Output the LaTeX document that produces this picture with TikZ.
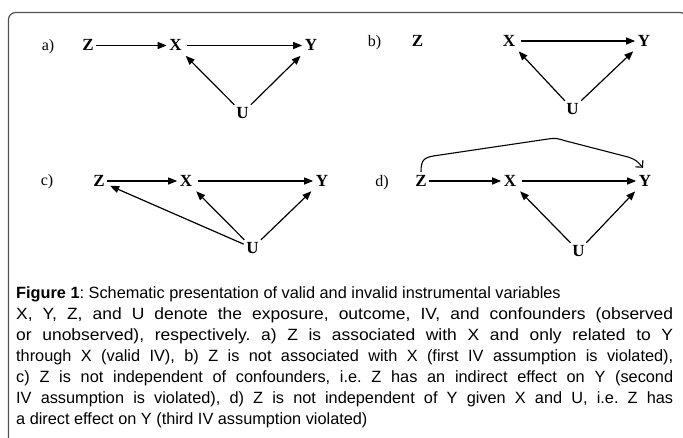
\documentclass[tikz,border=0pt]{standalone}
\usepackage{fontspec}
\setmainfont{Liberation Serif}
\newfontfamily\capfont{Liberation Sans}
\newfontfamily\capwide[FakeStretch=1.07]{Liberation Sans}
\usetikzlibrary{arrows.meta}
\newlength{\capw}
\setlength{\capw}{657pt}
\newcommand{\jl}[1]{\hbox to \capw{#1}}
\begin{document}
\begin{tikzpicture}[x=1pt,y=-1pt,
  var/.style={font=\fontsize{17}{17}\selectfont\bfseries, inner sep=2.5pt,
              text height=11pt, text depth=0pt},
  lbl/.style={font=\fontsize{16}{16}\selectfont, inner sep=0pt,
              text height=11pt, text depth=0pt},
  arr/.style={-{Triangle[length=9pt,width=7pt]}, line width=1.2pt},
  direct/.style={-{Straight Barb[length=5pt,width=10pt]}, line width=1.1pt},
  frame/.style={draw=black!68, line width=1.2pt, rounded corners=7pt}]
\useasboundingbox (0,0) rectangle (683,438);
\draw[frame] (8.5,12.5) rectangle (687,470);

% a) valid instrument
\node[lbl] (la) at (48,45.5) {a)};
\node[var] (za) at (88,45.5) {Z};
\node[var] (xa) at (175.5,45.5) {X};
\node[var] (ya) at (311,45.5) {Y};
\node[var] (ua) at (242.5,113) {U};
\draw[arr] (za) -- (xa);
\draw[arr, shorten <=3pt] (xa) -- (ya);
\draw[arr, shorten >=3pt] (ua) -- (xa);
\draw[arr, shorten >=3pt] (ua) -- (ya);

% b) Z not associated with X
\node[lbl] (lb) at (374.5,41) {b)};
\node[var] (zb) at (417.5,41) {Z};
\node[var] (xb) at (509,41) {X};
\node[var] (yb) at (644,41) {Y};
\node[var] (ub) at (572.5,109) {U};
\draw[arr, shorten <=3pt] (xb) -- (yb);
\draw[arr, shorten >=3pt] (ub) -- (xb);
\draw[arr, shorten >=3pt] (ub) -- (yb);

% c) Z related to the confounders
\node[lbl] (lc) at (47,180) {c)};
\node[var] (zc) at (99,181) {Z};
\node[var] (xc) at (186,181) {X};
\node[var] (yc) at (322,181) {Y};
\node[var] (uc) at (252.5,248) {U};
\draw[arr] (zc) -- (xc);
\draw[arr, shorten <=3pt] (xc) -- (yc);
\draw[arr, shorten >=3pt] (uc) -- (zc);
\draw[arr, shorten >=3pt] (uc) -- (xc);
\draw[arr, shorten >=3pt] (uc) -- (yc);

% d) direct effect of Z on Y
\node[lbl] (ld) at (382,181) {d)};
\node[var] (zd) at (421,181) {Z};
\node[var] (xd) at (510,181) {X};
\node[var] (yd) at (645,181) {Y};
\node[var] (ud) at (578.5,251) {U};
\draw[arr] (zd) -- (xd);
\draw[arr, shorten <=3pt] (xd) -- (yd);
\draw[arr, shorten >=3pt] (ud) -- (xd);
\draw[arr, shorten >=3pt] (ud) -- (yd);
\draw[direct] ([yshift=1pt]zd.north) .. controls (421,158) and (425,157) .. (440,155)
  -- (548,139) .. controls (556,138) .. (566,141) -- (628,157)
  .. controls (636,160) .. ([xshift=-2pt,yshift=5pt]yd.north);

% caption
\node[anchor=north west, inner sep=0pt, text width=\capw,
      font=\capfont\fontsize{16.3}{21}\selectfont] (cap) at (16,286) {%
\frenchspacing\setlength{\baselineskip}{21pt}%
\spaceskip=0.278em plus 2em minus 0.1em
\hbox{\textbf{Figure 1}: Schematic presentation of valid and invalid instrumental variables}
\jl{\capwide\spaceskip=0.278em plus 2em minus 0.1em X, Y, Z, and U denote the exposure, outcome, IV, and confounders (observed}
\jl{\capwide\spaceskip=0.278em plus 2em minus 0.1em or unobserved), respectively. a) Z is associated with X and only related to Y}
\jl{through X (valid IV), b) Z is not associated with X (first IV assumption is violated),}
\jl{c) Z is not independent of confounders, i.e. Z has an indirect effect on Y (second}
\jl{IV assumption is violated), d) Z is not independent of Y given X and U, i.e. Z has}
\hbox{a direct effect on Y (third IV assumption violated)}};
\end{tikzpicture}
\end{document}
